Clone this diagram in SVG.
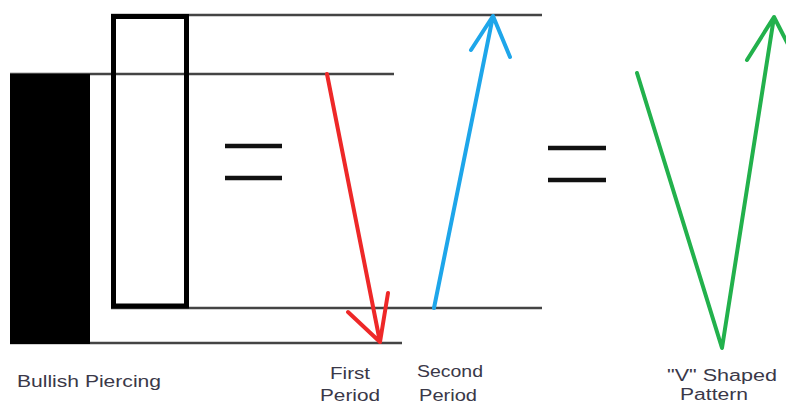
<svg xmlns="http://www.w3.org/2000/svg" width="786" height="405" viewBox="0 0 786 405">
<style>
.ln{stroke:#444;stroke-width:2.5;fill:none}
.eq{stroke:#111;stroke-width:4.5;fill:none}
.ar{fill:none;stroke-width:4;stroke-linecap:round;stroke-linejoin:round}
.t{font-family:"Liberation Sans",Arial,sans-serif;font-size:16px;fill:#3a3848}
</style>
<rect width="786" height="405" fill="#fff"/>
<g id="levels">
<line class="ln" x1="111" y1="15" x2="542" y2="15"/>
<line class="ln" x1="10" y1="74" x2="394" y2="74"/>
<line class="ln" x1="111" y1="308" x2="542" y2="308"/>
<line class="ln" x1="10" y1="343" x2="402" y2="343"/>
</g>
<g id="bearish-candle"><rect x="10" y="74" width="80" height="270" fill="#000"/></g>
<g id="bullish-candle"><rect x="113.5" y="16.5" width="73" height="289.5" fill="none" stroke="#000" stroke-width="5"/></g>
<g id="equals1"><line class="eq" x1="225" y1="146" x2="282" y2="146"/><line class="eq" x1="225" y1="178" x2="282" y2="178"/></g>
<g id="equals2"><line class="eq" x1="548" y1="148" x2="606" y2="148"/><line class="eq" x1="548" y1="180" x2="606" y2="180"/></g>
<g id="connectors">
<path class="ar" stroke="#ee2828" d="M327 74 L380 342 M348 312 L380 342 L388 293"/>
<path class="ar" stroke="#1ea6ea" d="M434 308 L493 16 M471 50 L493 16 L510 57"/>
<path class="ar" stroke="#22b14c" d="M637 73 L722 348 L774 17 M747 60 L774 17 L792 52"/>
</g>
<g id="labels">
<text class="t" x="17" y="387" textLength="144" lengthAdjust="spacingAndGlyphs">Bullish Piercing</text>
<text class="t" x="330" y="379" textLength="40" lengthAdjust="spacingAndGlyphs">First</text>
<text class="t" x="320" y="401" textLength="60" lengthAdjust="spacingAndGlyphs">Period</text>
<text class="t" x="417" y="377" textLength="66" lengthAdjust="spacingAndGlyphs">Second</text>
<text class="t" x="419" y="401" textLength="58" lengthAdjust="spacingAndGlyphs">Period</text>
<text class="t" x="667" y="381" textLength="110" lengthAdjust="spacingAndGlyphs">"V" Shaped</text>
<text class="t" x="680" y="400" font-size="15" textLength="68" lengthAdjust="spacingAndGlyphs">Pattern</text>
</g>
</svg>
